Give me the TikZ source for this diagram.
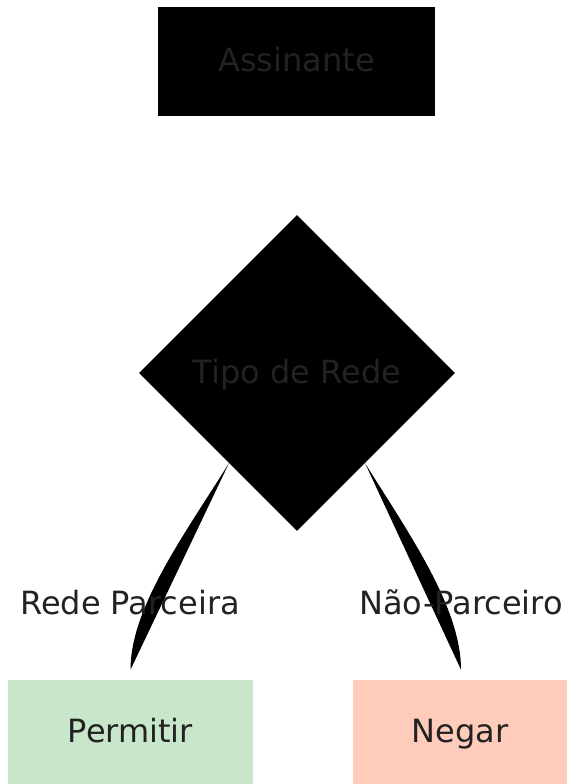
\documentclass[tikz,border=0pt]{standalone}
\usepackage{fontspec}
\setmainfont{DejaVu Sans}
\usepackage{tikz}
\usetikzlibrary{shapes.geometric,calc,positioning}
\definecolor{txtgray}{HTML}{222222}
\definecolor{okgreen}{HTML}{C8E6C9}
\definecolor{nosalmon}{HTML}{FFCCBC}

\begin{document}
\begin{tikzpicture}[x=0.75pt,y=-0.75pt,
    every node/.style={text=txtgray,font=\fontsize{24}{29}\selectfont,inner sep=0pt,text height=18pt,text depth=3pt},
    darkbox/.style={fill=black,minimum width=277*0.75pt,minimum height=109*0.75pt},
    decision/.style={diamond,fill=black,aspect=1,minimum size=316*0.75pt},
    result/.style={minimum height=104*0.75pt}]
                \useasboundingbox (0,0) rectangle (567,784);
                % nodes
                \node[darkbox] (assinante) at (296.5,61.5) {Assinante};
                \node[decision] (tipo) at (297,373) {Tipo de Rede};
                \node[result,fill=okgreen,minimum width=245*0.75pt] (permitir) at (130.5,732) {Permitir};
                \node[result,fill=nosalmon,minimum width=214*0.75pt] (negar) at (460,732) {Negar};
                % edges
                \coordinate (ps) at ($(tipo.south)!0.43!(tipo.west)$);
                \coordinate (pe) at ($(permitir.north)+(0,-10)$);
                \coordinate (ns) at ($(tipo.south)!0.43!(tipo.east)$);
                \coordinate (ne) at ($(negar.north)+(1,-10)$);
                \fill[black] (ps) .. controls +(-45,72) and +(0,-62) .. (pe);
                \fill[black] (ns) .. controls +(45,72) and +(0,-62) .. (ne);
                % labels
                \node (rede) at (130,604) {Rede Parceira};
                \node (naop) at (461,604) {Não-Parceiro};
              \end{tikzpicture}
\end{document}
